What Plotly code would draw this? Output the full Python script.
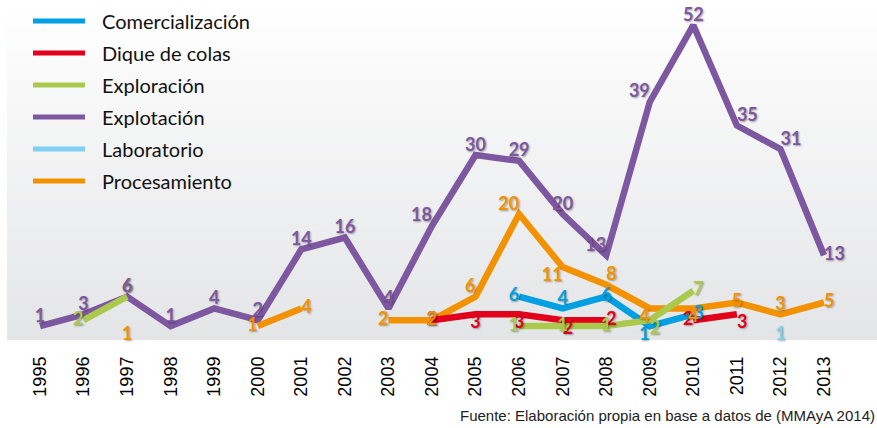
import plotly.graph_objects as go

# ---------------- data ----------------
years = list(range(1995, 2014))
tick_labels = [str(y) for y in years]
series_names = ["Comercialización", "Dique de colas", "Exploración",
                "Explotación", "Laboratorio", "Procesamiento"]

comercializacion = [None] * 11 + [6, 4, 6, 1, 3, None, None, None]
dique_colas = [None] * 9 + [2, 3, 3, 2, 2, None, 2, 3, None, None]
exploracion = [None, 2, 6, None, None, None, None, None, None, None, None,
               1, 1, 1, 2, 7, None, None, None]
explotacion = [1, 3, 6, 1, 4, 2, 14, 16, 4, 18, 30, 29, 20, 13, 39, 52, 35, 31, 13]
laboratorio = [None] * 17 + [1, None]
procesamiento = [None, None, 1, None, None, 1, 4, None, 2, 2, 6, 20, 11, 8, 4, 4, 5, 3, 5]

source_text = "Fuente: Elaboración propia en base a datos de (MMAyA 2014)"

# ---------------- styles ----------------
colors = {
    "Comercialización": "#00a0e2",
    "Dique de colas": "#e2001a",
    "Exploración": "#acc94f",
    "Explotación": "#7d57a0",
    "Laboratorio": "#7fd0f2",
    "Procesamiento": "#f39200",
}
values = {
    "Comercialización": comercializacion,
    "Dique de colas": dique_colas,
    "Exploración": exploracion,
    "Explotación": explotacion,
    "Laboratorio": laboratorio,
    "Procesamiento": procesamiento,
}
label_pos = {
    "Explotación": {2004: "top left", 2008: "top left", 2009: "top left",
                    2011: "top right", 2012: "top right", 2013: "middle right"},
    "Procesamiento": {1997: "bottom center", 2000: "middle left", 2001: "middle right",
                      2003: "middle left", 2004: "middle center", 2005: "top left",
                      2006: "top left", 2007: "bottom left", 2008: "top right",
                      2009: "bottom left", 2010: "bottom center", 2011: "middle center",
                      2012: "top center", 2013: "middle right"},
    "Dique de colas": {2004: "middle center", 2005: "bottom center", 2006: "bottom center",
                       2007: "bottom right", 2008: "middle right", 2010: "middle left",
                       2011: "bottom right"},
    "Exploración": {1996: "middle left", 1997: "top center", 2006: "middle left",
                    2007: "middle center", 2008: "middle center", 2009: "bottom right",
                    2010: "middle right"},
    "Comercialización": {2006: "middle left", 2007: "top center", 2008: "middle center",
                         2009: "bottom left", 2010: "middle right"},
    "Laboratorio": {2012: "bottom center"},
}

fig = go.Figure()

# lines (drawn first)
line_order = ["Explotación", "Procesamiento", "Dique de colas",
              "Comercialización", "Exploración", "Laboratorio"]
for name in line_order:
    fig.add_trace(go.Scatter(
        x=years, y=values[name], mode="lines", name=name,
        line=dict(color=colors[name], width=6.5),
        connectgaps=False, showlegend=False, hoverinfo="skip"))

# data labels (drawn on top)
text_order = ["Laboratorio", "Comercialización", "Dique de colas",
              "Exploración", "Explotación", "Procesamiento"]
for name in text_order:
    vals = values[name]
    pos = [label_pos[name].get(y, "top center") for y in years]
    txt = ["" if v is None else str(v) for v in vals]
    fig.add_trace(go.Scatter(
        x=years, y=vals, mode="text", text=txt, textposition=pos,
        textfont=dict(family="Lato", size=18, color=colors[name], weight="bold",
                      shadow="1px 1px 2px rgba(0,0,0,0.35)"),
        cliponaxis=False, showlegend=False, hoverinfo="skip"))

# ---------------- layout ----------------
W, H = 877, 428
ML, MR, MT, MB = 7, 0, 0, 88
PW, PH = W - ML - MR, H - MT - MB


def px_x(px):
    return (px - ML) / PW


def px_y(py):
    return 1 - (py - MT) / PH


shapes = []
# vertical gradient background of the plot area
n_bands = 34
top_rgb = (255, 255, 255)
bot_rgb = (228, 229, 231)
for i in range(n_bands):
    t = (i + 0.5) / n_bands
    c = tuple(round(top_rgb[k] + (bot_rgb[k] - top_rgb[k]) * t) for k in range(3))
    shapes.append(dict(type="rect", xref="paper", yref="paper", layer="below",
                       x0=0, x1=1, y0=1 - (i + 1) / n_bands, y1=1 - i / n_bands,
                       line=dict(width=0), fillcolor="rgb(%d,%d,%d)" % c))

annotations = []
# manual legend
for i, name in enumerate(series_names):
    yy = px_y(21 + 32 * i)
    shapes.append(dict(type="line", xref="paper", yref="paper",
                       x0=px_x(33), x1=px_x(85), y0=yy, y1=yy,
                       line=dict(color=colors[name], width=5)))
    annotations.append(dict(xref="paper", yref="paper", x=px_x(100), y=yy,
                            xanchor="left", yanchor="middle", showarrow=False,
                            text=name, font=dict(family="Lato", size=20, color="#111111")))

annotations.append(dict(xref="paper", yref="paper", x=px_x(877), y=px_y(415),
                        xanchor="right", yanchor="middle", showarrow=False,
                        text=source_text,
                        font=dict(family="Liberation Sans", size=15, color="#222222")))

# axis ranges: 1995 at x 40, 2013 at x 824; value 0 at y 332, 5.9 px/unit
x_per_year = (824 - 40) / 18
x_lo = 1995 - (40 - ML) / x_per_year
x_hi = x_lo + PW / x_per_year
y_per_unit = 5.9
y_lo = -(340 - 332) / y_per_unit
y_hi = y_lo + PH / y_per_unit

fig.update_layout(
    width=W, height=H,
    margin=dict(l=ML, r=MR, t=MT, b=MB, pad=0),
    paper_bgcolor="white", plot_bgcolor="rgba(0,0,0,0)",
    showlegend=False,
    shapes=shapes, annotations=annotations,
    xaxis=dict(range=[x_lo, x_hi], tickmode="array", tickvals=years,
               ticktext=tick_labels, tickangle=-90, showgrid=False, zeroline=False,
               showline=False, ticks="", ticklabelstandoff=12,
               tickfont=dict(family="Liberation Sans", size=18, color="#000000")),
    yaxis=dict(range=[y_lo, y_hi], visible=False, showgrid=False, zeroline=False),
)

fig.write_html(
    "out.html",
    config={"displayModeBar": False},
    post_script="document.body.style.margin='0';document.body.style.overflow='hidden';",
)
